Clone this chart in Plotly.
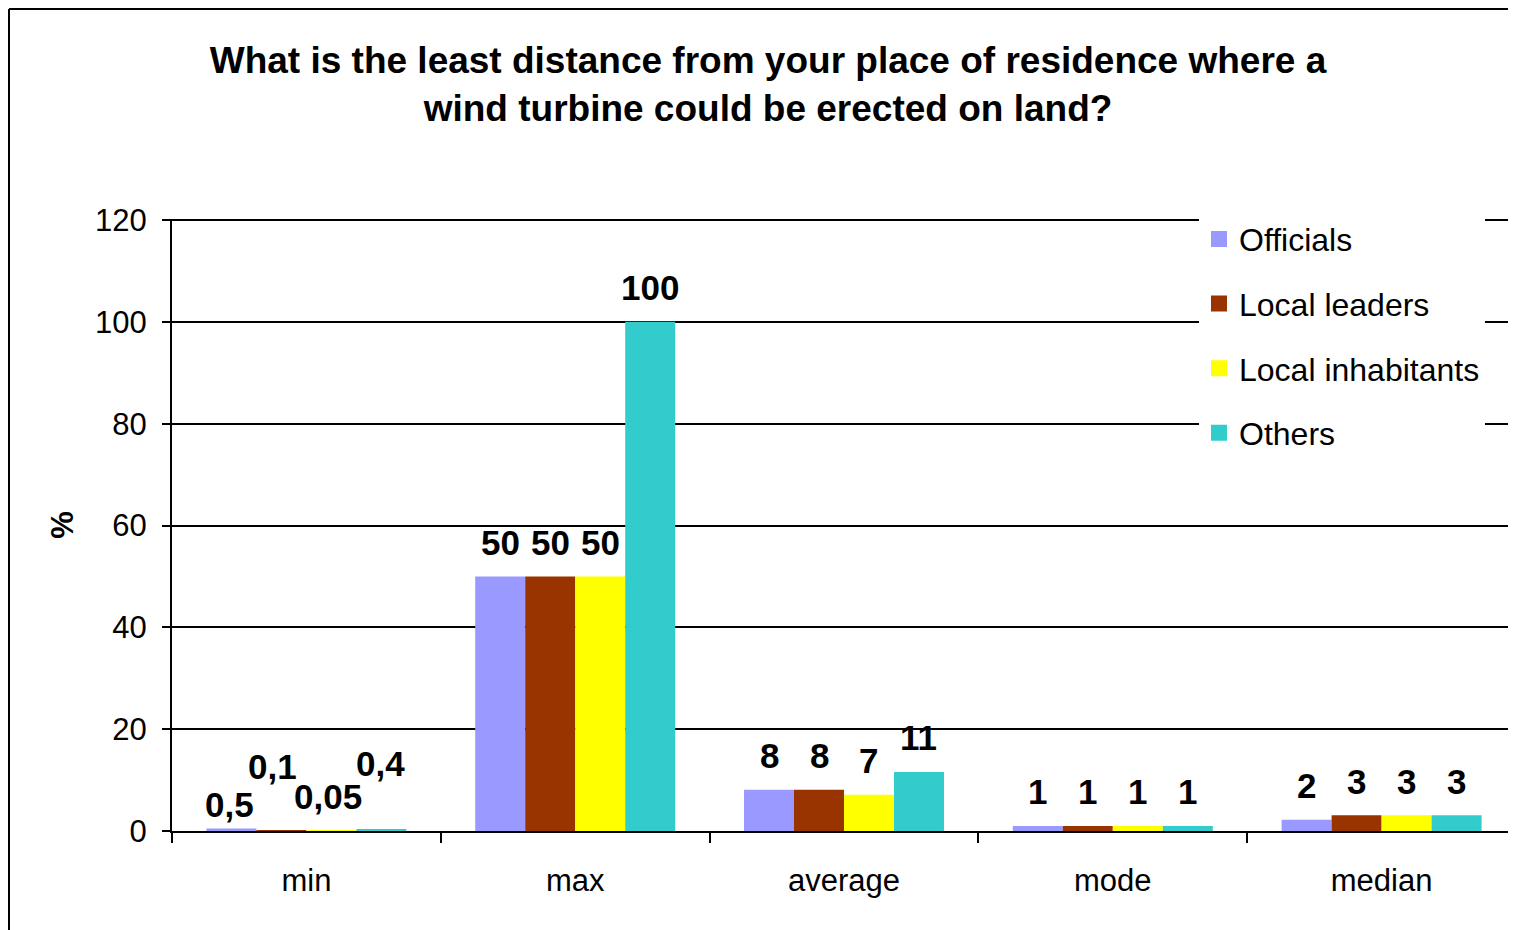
import plotly.graph_objects as go

CATEGORIES = ["min", "max", "average", "mode", "median"]
SERIES_NAMES = ["Officials", "Local leaders", "Local inhabitants", "Others"]

OFFICIALS = [0.5, 50, 8.1, 1, 2.2]
LOCAL_LEADERS = [0.1, 50, 8.1, 1, 3.1]
LOCAL_INHABITANTS = [0.05, 50, 7.1, 1, 3.1]
OTHERS = [0.4, 100, 11.6, 1, 3.1]

OFFICIALS_LABELS = ["0,5", "50", "8", "1", "2"]
LOCAL_LEADERS_LABELS = ["0,1", "50", "8", "1", "3"]
LOCAL_INHABITANTS_LABELS = ["0,05", "50", "7", "1", "3"]
OTHERS_LABELS = ["0,4", "100", "11", "1", "3"]

Y_TICKS = [0, 20, 40, 60, 80, 100, 120]

COLORS = ["#9999FF", "#993300", "#FFFF00", "#33CCCC"]
FONT = "Liberation Sans, Arial, sans-serif"

# the page body keeps its default 8px margin, so the figure is 8px smaller
WIDTH, HEIGHT = 1508, 922
MARGIN = {"l": 164, "r": 0, "t": 211, "b": 99}
BARGAP = 0.256
LABEL_LIFT = 34
# Excel staggered the crowded labels in the "min" group
MIN_LABEL_NUDGE = [(-2, -10), (-9, 30), (-3, 0), (-1, 31)]

series_values = [OFFICIALS, LOCAL_LEADERS, LOCAL_INHABITANTS, OTHERS]
series_labels = [
    OFFICIALS_LABELS,
    LOCAL_LEADERS_LABELS,
    LOCAL_INHABITANTS_LABELS,
    OTHERS_LABELS,
]

fig = go.Figure()

for i, (name, values) in enumerate(zip(SERIES_NAMES, series_values)):
    fig.add_trace(
        go.Bar(
            x=CATEGORIES,
            y=values,
            name=name,
            legendgroup=name,
            showlegend=False,
            marker={"color": COLORS[i], "line": {"width": 0}},
            hoverinfo="x+y+name",
        )
    )

# legend entries with bigger square swatches than the bar icon
for i, name in enumerate(SERIES_NAMES):
    fig.add_trace(
        go.Scatter(
            x=[None],
            y=[None],
            mode="markers",
            name=name,
            legendgroup=name,
            marker={"symbol": "square", "size": 20, "color": COLORS[i]},
            hoverinfo="skip",
        )
    )

plot_width = WIDTH - MARGIN["l"] - MARGIN["r"]
plot_height = HEIGHT - MARGIN["t"] - MARGIN["b"]
bar_px = plot_width / len(CATEGORIES) * (1 - BARGAP) / len(SERIES_NAMES)

annotations = []
for i, (values, labels) in enumerate(zip(series_values, series_labels)):
    for cat, val, lab in zip(CATEGORIES, values, labels):
        dx, dy = MIN_LABEL_NUDGE[i] if cat == "min" else (0, 0)
        annotations.append(
            dict(
                x=cat,
                y=val,
                xref="x",
                yref="y",
                text=f"<b>{lab}</b>",
                showarrow=False,
                xanchor="center",
                yanchor="middle",
                xshift=(i - 1.5) * bar_px + dx,
                yshift=LABEL_LIFT + dy,
                font={"family": FONT, "size": 35, "color": "#000000"},
            )
        )

# outer chart frame (left and top edges visible in the crop)
x_left = (1 - MARGIN["l"]) / plot_width
y_top = (HEIGHT - MARGIN["b"] - 1) / plot_height
y_bottom = -MARGIN["b"] / plot_height - 0.02
shapes = [
    dict(type="line", xref="paper", yref="paper", x0=x_left, x1=x_left,
         y0=y_bottom, y1=y_top, line={"color": "#000000", "width": 2}),
    dict(type="line", xref="paper", yref="paper", x0=x_left, x1=1.01,
         y0=y_top, y1=y_top, line={"color": "#000000", "width": 2}),
]

fig.update_layout(
    width=WIDTH,
    height=HEIGHT,
    margin=MARGIN,
    paper_bgcolor="#FFFFFF",
    plot_bgcolor="#FFFFFF",
    barmode="group",
    bargap=BARGAP,
    bargroupgap=0,
    font={"family": FONT, "size": 31, "color": "#000000"},
    title={
        "text": "<b>What is the least distance from your place of residence where a"
                "<br>wind turbine could be erected on land?</b>",
        "x": 760 / WIDTH,
        "xref": "container",
        "xanchor": "center",
        "y": 1 - 65 / HEIGHT,
        "yref": "container",
        "yanchor": "top",
        "font": {"family": FONT, "size": 37, "color": "#000000"},
    },
    legend={
        "x": 1027 / plot_width,
        "y": 1.012,
        "xanchor": "left",
        "yanchor": "top",
        "bgcolor": "#FFFFFF",
        "borderwidth": 0,
        "tracegroupgap": 20,
        "font": {"family": FONT, "size": 32, "color": "#000000"},
    },
    annotations=annotations,
    shapes=shapes,
)

fig.update_xaxes(
    type="category",
    showline=True,
    linecolor="#000000",
    linewidth=2,
    ticks="outside",
    tickson="boundaries",
    ticklen=10,
    tickwidth=2,
    tickcolor="#000000",
    ticklabelstandoff=21,
    showgrid=False,
    tickfont={"family": FONT, "size": 31},
)

fig.update_yaxes(
    range=[0, 120.2],
    tickvals=Y_TICKS,
    showline=True,
    linecolor="#000000",
    linewidth=2,
    ticks="outside",
    ticklen=8,
    tickwidth=2,
    tickcolor="#000000",
    ticklabelstandoff=9,
    showgrid=True,
    gridcolor="#000000",
    gridwidth=2,
    zeroline=False,
    tickfont={"family": FONT, "size": 31},
    title={
        "text": "<b>%</b>",
        "standoff": 12,
        "font": {"family": FONT, "size": 31},
    },
)

fig.write_html("out.html")
